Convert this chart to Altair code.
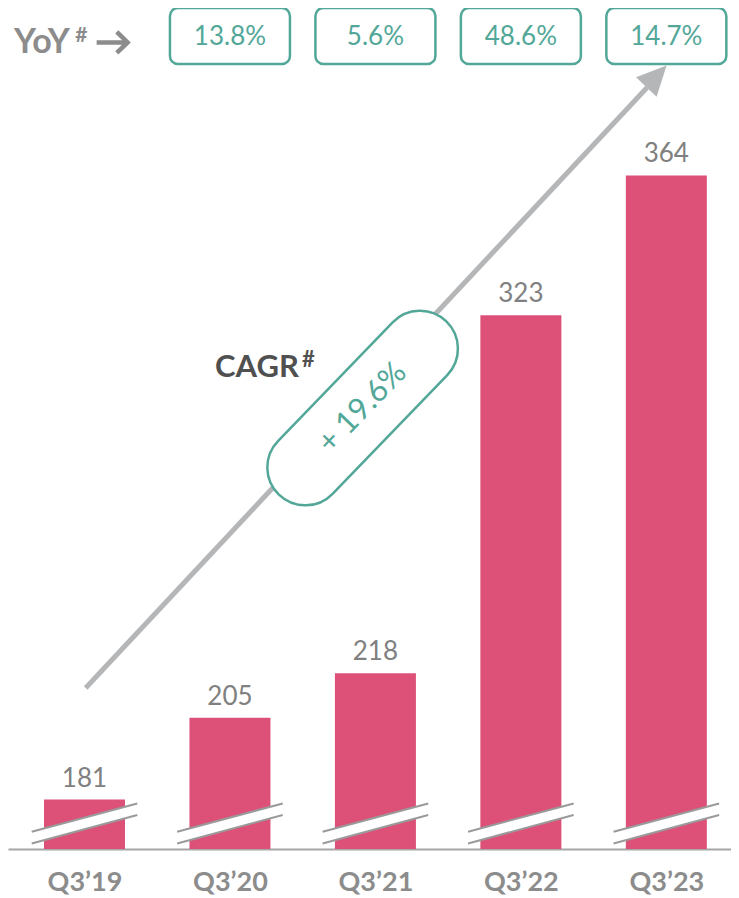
import altair as alt
import pandas as pd

# ---- data ----
quarters = ["Q3’19", "Q3’20", "Q3’21", "Q3’22", "Q3’23"]
values = [181, 205, 218, 323, 364]
yoy_labels = ["13.8%", "5.6%", "48.6%", "14.7%"]
cagr_label = "+ 19.6%"

bars_df = pd.DataFrame({"i": list(range(len(quarters))), "quarter": quarters, "value": values})
yoy_df = pd.DataFrame({"i": list(range(1, len(quarters))), "yoy": yoy_labels})
one = pd.DataFrame({"k": [0]})

# ---- styles ----
PINK = "#DD5077"
TEAL = "#52A798"
GREY_ARROW = "#B5B6B8"
GREY_TXT = "#8C8C8C"
GREY_VAL = "#808080"
DARK = "#505050"
FONT = "Lato"

BASE = 166.5
xscale = alt.Scale(domain=[-0.4915, 4.4102], nice=False, zero=False)
yscale = alt.Scale(domain=[BASE, 413.1], nice=False, zero=False)

label_expr = "[" + ",".join("'" + q + "'" for q in quarters) + "][datum.value]"

bars = alt.Chart(bars_df).mark_bar(size=81, color=PINK, opacity=1).encode(
    x=alt.X("i:Q", scale=xscale, title=None,
            axis=alt.Axis(values=list(range(len(quarters))), labelExpr=label_expr,
                          labelFont=FONT, labelFontWeight="bold", labelFontSize=27,
                          labelColor=GREY_TXT, domainColor="#A6A6A6", domainWidth=2,
                          ticks=False, tickSize=0, grid=False, labelPadding=41,
                          labelBaseline="alphabetic", labelOverlap=False, labelFlush=False)),
    y=alt.Y("value:Q", scale=yscale, axis=None),
    y2=alt.datum(BASE),
)

# axis-break marks
break_fill = alt.Chart(bars_df).mark_point(
    shape="M -1 0.159 L 1 -0.379 L 1 -0.159 L -1 0.379 Z",
    size=11151, filled=True, fill="white", strokeWidth=0, opacity=1,
).encode(x="i:Q", y=alt.datum(174.0))
break_lines = alt.Chart(bars_df).mark_point(
    shape="M -1 0.159 L 1 -0.379 M -1 0.379 L 1 -0.159",
    size=11151, filled=False, stroke="#9A9A9A", strokeWidth=2, opacity=1,
).encode(x="i:Q", y=alt.datum(174.0))

value_labels = alt.Chart(bars_df).mark_text(
    dy=-13, baseline="alphabetic", align="center", font=FONT, fontSize=26, color=GREY_VAL
).encode(x="i:Q", y="value:Q", text="value:Q")

# CAGR arrow
arrow_line = alt.Chart(one).mark_rule(color=GREY_ARROW, strokeWidth=5, strokeCap="butt").encode(
    x=alt.datum(0.008), y=alt.datum(213.7), x2=alt.datum(3.868), y2=alt.datum(389.8)
)
arrow_head = alt.Chart(one).mark_point(
    shape="M 0 -1 L 0.96 1 L -0.96 1 Z", size=870, angle=43.4,
    filled=True, fill=GREY_ARROW, strokeWidth=0, opacity=1,
).encode(x=alt.datum(3.932), y=alt.datum(393.1))

pill = alt.Chart(one).mark_point(
    shape="M -0.685 -0.315 L 0.685 -0.315 A 0.315 0.315 0 0 1 0.685 0.315 "
          "L -0.685 0.315 A 0.315 0.315 0 0 1 -0.685 -0.315 Z",
    size=58081, angle=314, filled=True, fill="white", stroke=TEAL, strokeWidth=2.5, opacity=1,
).encode(x=alt.datum(1.912), y=alt.datum(295.8))
pill_text = alt.Chart(one).mark_text(
    text=cagr_label, angle=314, align="center", baseline="middle",
    font=FONT, fontSize=31, color=TEAL,
).encode(x=alt.datum(1.912), y=alt.datum(295.8))

cagr_txt = alt.Chart(one).mark_text(
    text="CAGR", align="left", baseline="alphabetic", font=FONT, fontWeight="bold",
    fontSize=31, color=DARK,
).encode(x=alt.datum(0.898), y=alt.datum(305.0))
cagr_hash = alt.Chart(one).mark_text(
    text="#", align="left", baseline="alphabetic", font=FONT, fontWeight="bold",
    fontSize=22, color=DARK,
).encode(x=alt.datum(1.495), y=alt.datum(307.8))

# YoY header
yoy_txt = alt.Chart(one).mark_text(
    text="YoY", align="left", baseline="alphabetic", font=FONT, fontWeight="bold",
    fontSize=34, color=GREY_TXT,
).encode(x=alt.datum(-0.485), y=alt.datum(399.9))
yoy_hash = alt.Chart(one).mark_text(
    text="#", align="left", baseline="alphabetic", font=FONT, fontWeight="bold",
    fontSize=21, color=GREY_TXT,
).encode(x=alt.datum(-0.064), y=alt.datum(403.2))
yoy_arrow = alt.Chart(one).mark_point(
    shape="M -1 0 L 0.95 0 M 0.3 -0.68 L 1 0 L 0.3 0.68", size=961,
    filled=False, stroke=GREY_TXT, strokeWidth=4.5, opacity=1,
).encode(x=alt.datum(0.19), y=alt.datum(403.0))

boxes = alt.Chart(yoy_df).mark_point(
    shape="M -0.867 -0.467 L 0.867 -0.467 A 0.133 0.133 0 0 1 1 -0.333 L 1 0.333 "
          "A 0.133 0.133 0 0 1 0.867 0.467 L -0.867 0.467 A 0.133 0.133 0 0 1 -1 0.333 "
          "L -1 -0.333 A 0.133 0.133 0 0 1 -0.867 -0.467 Z",
    size=14400, filled=True, fill="white", stroke=TEAL, strokeWidth=2.5, opacity=1,
).encode(x="i:Q", y=alt.datum(404.9))
box_text = alt.Chart(yoy_df).mark_text(
    align="center", baseline="middle", font=FONT, fontSize=26, color=TEAL, dy=1,
).encode(x="i:Q", y=alt.datum(404.9), text="yoy:N")

chart = alt.layer(
    bars, break_fill, break_lines, value_labels,
    arrow_line, arrow_head, pill, pill_text, cagr_txt, cagr_hash,
    yoy_txt, yoy_hash, yoy_arrow, boxes, box_text,
).properties(
    width=723, height=841,
    autosize=alt.AutoSizeParams(type="none"),
    padding={"left": 0, "top": 0, "right": 0, "bottom": 48},
).configure_view(stroke=None)

chart.save("out.html", embed_options={"renderer": "svg", "actions": False})
